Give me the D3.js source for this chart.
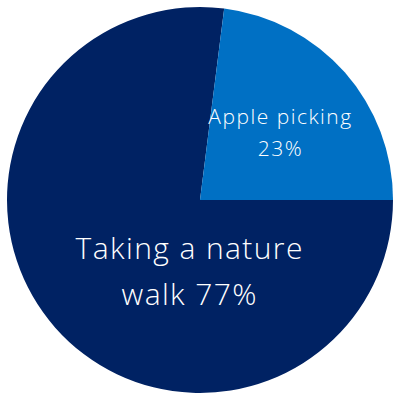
<!DOCTYPE html>
<html>
<head>
<meta charset="utf-8">
<script src="https://cdn.jsdelivr.net/npm/d3@7"></script>
<style>
  html, body { margin: 0; padding: 0; background: #fff; }
  svg { display: block; font-family: "Open Sans", Lato, sans-serif; }
</style>
</head>
<body>
<svg id="chart" width="400" height="400"></svg>
<script>
// Datos del gráfico
const categories = ['Taking a nature walk', 'Apple picking'];
const values = [77, 23];
const labelLines = [['Taking a nature', 'walk 77%'], ['Apple picking', '23%']];
const colors = ['#002263', '#0070c4'];

function renderPie() {
  const width = 400, height = 400;
  const radius = 193;

  const svg = d3.select('#chart');
  const g = svg.append('g')
    .attr('transform', `translate(${width / 2},${height / 2})`);

  const data = categories.map((c, i) => ({ name: c, value: values[i], lines: labelLines[i], color: colors[i] }));

  // empieza a las 3 en punto, sentido horario
  const pie = d3.pie()
    .sort(null)
    .value(d => d.value)
    .startAngle(Math.PI / 2)
    .endAngle(Math.PI / 2 + 2 * Math.PI);

  const arc = d3.arc().innerRadius(0).outerRadius(radius);

  const arcs = pie(data);

  g.selectAll('.slice')
    .data(arcs)
    .enter()
    .append('path')
    .attr('class', 'slice')
    .attr('d', arc)
    .attr('fill', d => d.data.color);

  // Etiquetas
  const labelArc = [
    { r: 0, dx: -11, dy: 59, size: 30, lh: 46, ls: 1.4 },
    { r: 105, dx: 1, dy: -7, size: 21, lh: 32, ls: 1.5 }
  ];

  arcs.forEach((a, i) => {
    const cfg = labelArc[i];
    const c = d3.arc().innerRadius(cfg.r).outerRadius(cfg.r).centroid(a);
    const x = c[0] + cfg.dx + cfg.ls / 2;
    const y = c[1] + cfg.dy;
    const t = g.append('text')
      .attr('text-anchor', 'middle')
      .style('fill', '#ffffff')
      .style('font-weight', 300)
      .style('letter-spacing', cfg.ls + 'px')
      .style('font-size', cfg.size + 'px');
    a.data.lines.forEach((line, j) => {
      t.append('tspan')
        .attr('x', x)
        .attr('y', y + j * cfg.lh)
        .text(line);
    });
  });
}

renderPie();
</script>
</body>
</html>
